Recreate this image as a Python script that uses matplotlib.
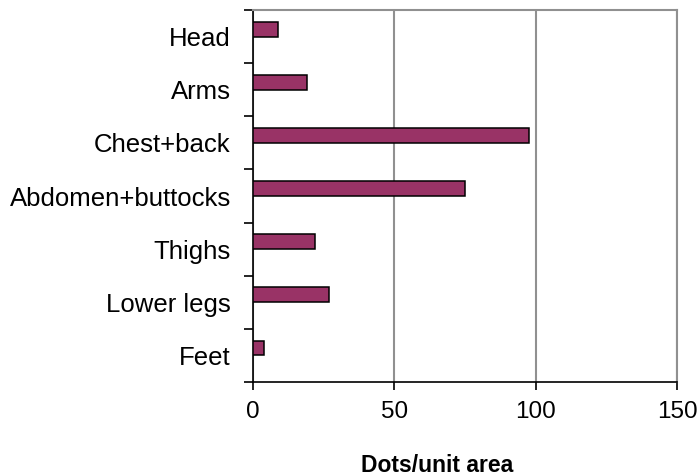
import matplotlib
matplotlib.use("Agg")
import matplotlib.pyplot as plt
import numpy as np

categories = ["Head", "Arms", "Chest+back", "Abdomen+buttocks", "Thighs", "Lower legs", "Feet"]
values = [9, 19, 97.5, 75, 22, 27, 4]
xticks = [0, 50, 100, 150]
xlabel = "Dots/unit area"

plt.rcParams['font.family'] = ['Liberation Sans', 'DejaVu Sans']

fig = plt.figure(figsize=(6.98, 4.75), dpi=100)
ax = fig.add_axes([253/698, 1 - 382/475, (677-253)/698, (382-10)/475])

n = len(categories)
pos = np.arange(n)
ax.barh(pos - 0.14, values, height=0.28, color="#993366", edgecolor="black", linewidth=1.1, zorder=3)

ax.set_xlim(0, 150)
ax.set_ylim(n - 0.5, -0.5)

ax.set_xticks(xticks)
ax.set_xticklabels([str(t) for t in xticks], fontsize=17.5)
ax.tick_params(axis='x', direction='out', length=6, width=1.2, pad=8, color='black')

ax.set_yticks(np.arange(n + 1) - 0.5)
ax.set_yticklabels([])
ax.set_yticks(pos, minor=True)
ax.set_yticklabels(categories, minor=True, fontsize=18.5)
ax.tick_params(axis='y', which='major', direction='out', length=6.5, width=1.2, color='black')
ax.tick_params(axis='y', which='minor', length=0, pad=16)

ax.grid(axis='x', color='#909090', linewidth=1.5, zorder=1)
ax.set_axisbelow(True)

for s in ['top', 'right']:
    ax.spines[s].set_color('#909090')
    ax.spines[s].set_linewidth(1.5)
for s in ['left', 'bottom']:
    ax.spines[s].set_color('black')
    ax.spines[s].set_linewidth(1.2)

fig.text(437/698, 1 - 465/475, xlabel, ha='center', va='center', fontsize=16.5, fontweight='bold')

fig.savefig("out.png", dpi=100)
